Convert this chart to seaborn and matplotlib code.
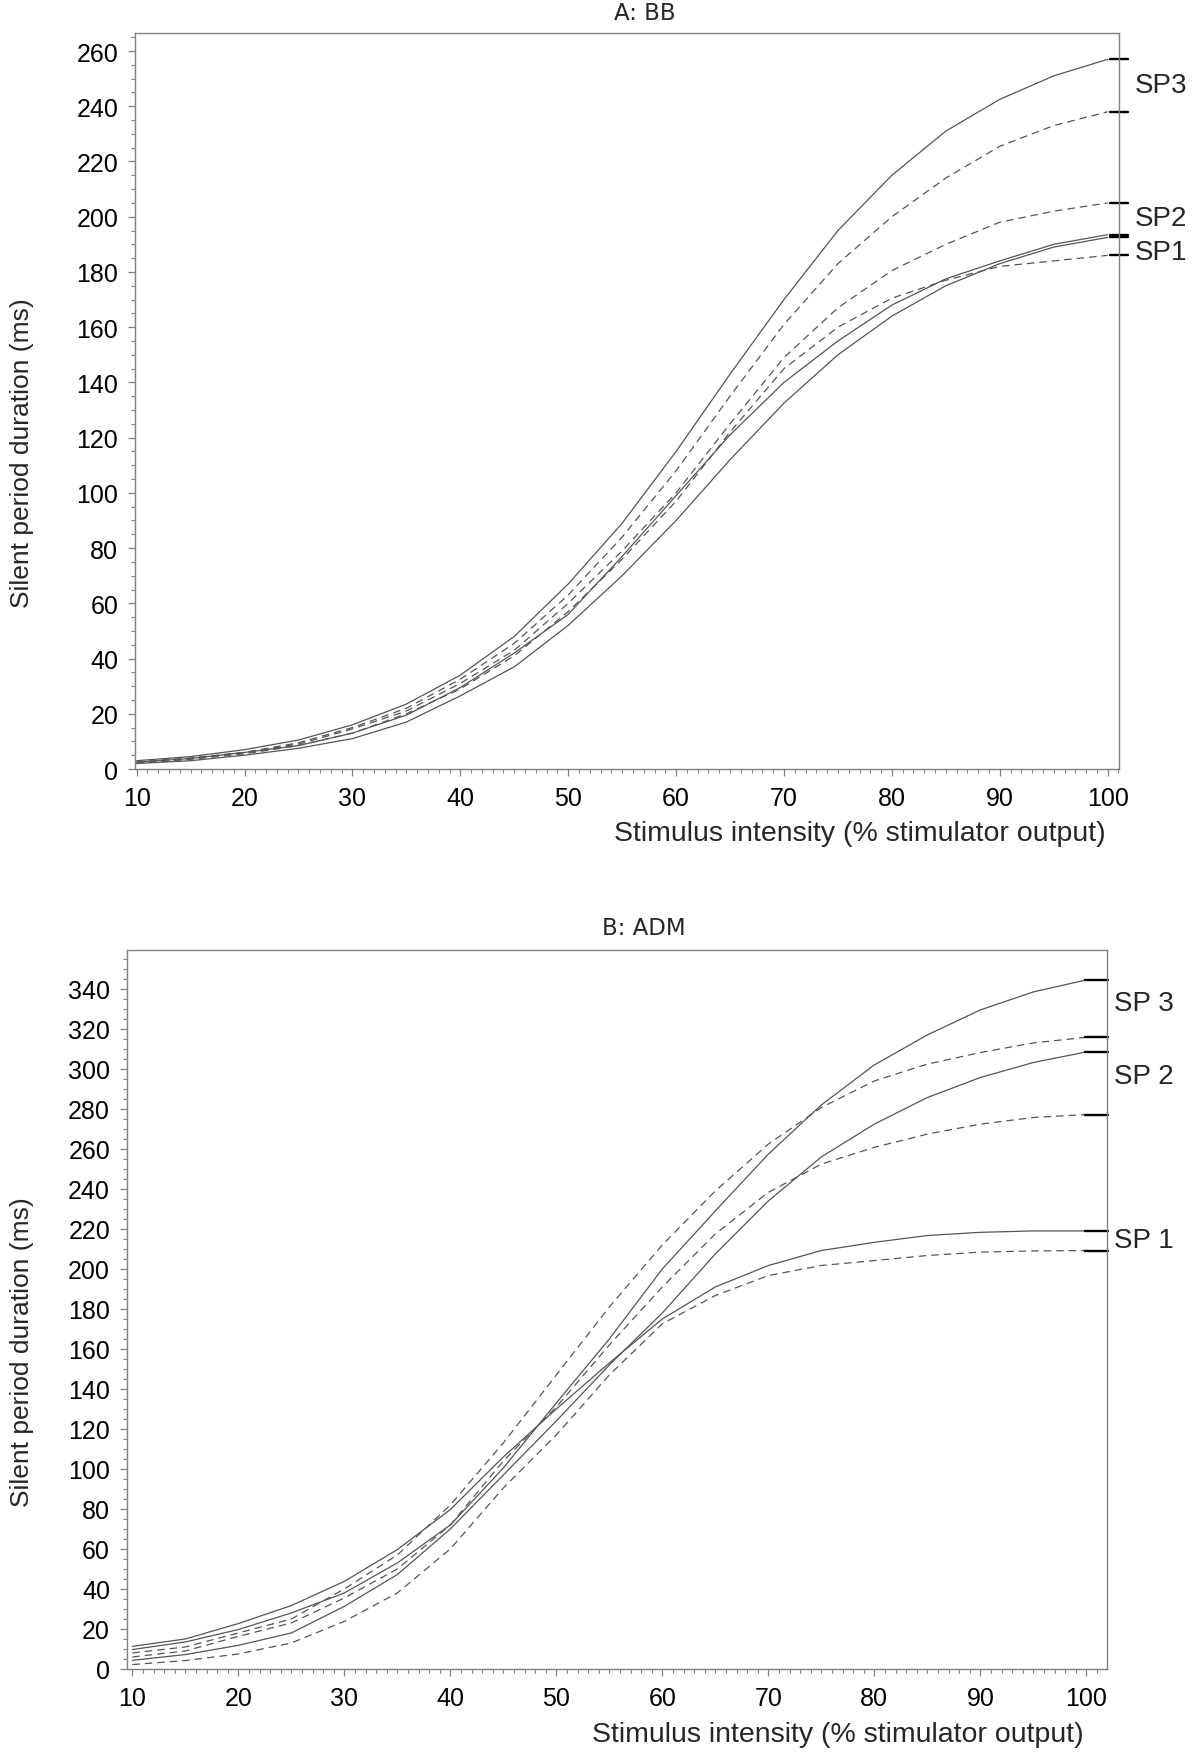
import pandas as pd
import matplotlib
matplotlib.use("Agg")
import matplotlib.pyplot as plt
import seaborn as sns
from matplotlib.ticker import MultipleLocator

# Stimulus intensity (% stimulator output)
intensity = [10, 15, 20, 25, 30, 35, 40, 45, 50, 55, 60, 65, 70, 75, 80, 85, 90, 95, 100]

# A: BB - silent period duration (ms)
bb_sp1 = [2.0, 3.0, 5.0, 7.5, 11.0, 17.0, 26.5, 37.0, 52.0, 70.0, 90.0, 112.0, 132.5, 150.0, 164.0, 175.0, 183.0, 189.0, 192.5]
bb_sp2 = [2.5, 3.8, 6.0, 8.5, 13.0, 19.5, 29.5, 42.0, 56.0, 77.0, 99.0, 121.0, 140.0, 155.0, 168.0, 177.5, 184.0, 190.0, 193.5]
bb_sp3 = [3.0, 4.5, 7.0, 10.5, 16.0, 23.5, 34.0, 48.0, 67.0, 89.0, 115.0, 143.0, 170.0, 195.0, 215.0, 231.0, 242.5, 251.0, 257.0]
bb_sp1_dash = [2.0, 3.5, 5.5, 8.5, 13.0, 20.0, 29.0, 41.0, 57.0, 76.0, 97.0, 122.0, 145.0, 160.0, 170.5, 177.0, 182.0, 184.0, 186.0]
bb_sp2_dash = [2.5, 3.8, 6.0, 9.0, 14.5, 21.0, 31.0, 43.0, 60.0, 79.0, 100.0, 125.0, 149.0, 167.0, 180.5, 190.0, 198.0, 202.0, 205.0]
bb_sp3_dash = [2.5, 4.0, 6.0, 9.5, 15.0, 22.0, 32.5, 45.5, 63.0, 84.0, 108.0, 135.0, 161.0, 183.0, 200.0, 214.0, 225.5, 233.0, 238.0]

# B: ADM - silent period duration (ms)
adm_sp1 = [11.3, 15.0, 22.7, 31.7, 43.8, 59.7, 79.7, 106.0, 130.0, 153.0, 175.0, 191.0, 201.7, 209.2, 213.3, 216.7, 218.3, 219.0, 219.0]
adm_sp2 = [4.3, 7.2, 11.8, 18.0, 31.3, 47.2, 70.0, 97.0, 124.0, 152.0, 178.0, 207.5, 234.0, 256.0, 272.4, 285.7, 295.7, 303.2, 308.5]
adm_sp3 = [9.7, 13.5, 19.7, 28.0, 38.0, 53.0, 72.0, 100.5, 133.0, 165.0, 200.0, 229.0, 257.4, 282.0, 302.0, 317.0, 329.5, 338.5, 344.5]
adm_sp1_dash = [2.2, 4.2, 7.5, 13.0, 23.8, 38.0, 60.0, 90.5, 117.0, 147.0, 172.6, 186.7, 196.7, 201.7, 204.2, 206.7, 208.4, 209.0, 209.2]
adm_sp2_dash = [6.0, 9.0, 16.3, 23.0, 35.5, 50.0, 72.0, 104.0, 131.0, 162.0, 191.0, 217.5, 238.3, 252.4, 260.8, 267.4, 272.4, 275.7, 277.2]
adm_sp3_dash = [8.0, 11.0, 18.0, 25.0, 40.0, 57.0, 82.0, 113.0, 147.0, 181.0, 212.0, 239.0, 262.4, 280.7, 294.0, 302.4, 308.2, 313.0, 315.8]

bb_labels = ["SP3", "SP2", "SP1"]
bb_label_y = [247.7, 199.4, 187.3]
adm_labels = ["SP 3", "SP 2", "SP 1"]
adm_label_y = [333.0, 296.3, 214.7]


def long_form(curves):
    frames = []
    for name, kind, vals in curves:
        frames.append(pd.DataFrame({"intensity": intensity, "duration": vals,
                                    "curve": name + "_" + kind, "kind": kind}))
    return pd.concat(frames, ignore_index=True)


bb_df = long_form([("SP1", "solid", bb_sp1), ("SP2", "solid", bb_sp2), ("SP3", "solid", bb_sp3),
                   ("SP1", "dashed", bb_sp1_dash), ("SP2", "dashed", bb_sp2_dash), ("SP3", "dashed", bb_sp3_dash)])
adm_df = long_form([("SP1", "solid", adm_sp1), ("SP2", "solid", adm_sp2), ("SP3", "solid", adm_sp3),
                    ("SP1", "dashed", adm_sp1_dash), ("SP2", "dashed", adm_sp2_dash), ("SP3", "dashed", adm_sp3_dash)])

sns.set_theme(style="white")
plt.rcParams["font.family"] = ["Liberation Sans", "DejaVu Sans"]

fig = plt.figure(figsize=(12, 17.56), dpi=100)
ax_a = fig.add_axes([0.1125, 0.5615, 0.82, 0.4191])
ax_b = fig.add_axes([0.1056, 0.049, 0.8172, 0.4096])

line_col = "#555555"
frame_col = "#808080"


def style_panel(ax, df, xlim, ylim, ymajor):
    sns.lineplot(data=df, x="intensity", y="duration", units="curve", estimator=None,
                 style="kind", dashes={"solid": "", "dashed": (6, 4)},
                 color=line_col, lw=0.9, legend=False, sort=False, ax=ax)
    ax.set_xlim(*xlim)
    ax.set_ylim(*ylim)
    ax.xaxis.set_major_locator(MultipleLocator(10))
    ax.xaxis.set_minor_locator(MultipleLocator(1))
    ax.yaxis.set_major_locator(MultipleLocator(ymajor))
    ax.yaxis.set_minor_locator(MultipleLocator(5))
    ax.tick_params(which="major", direction="out", length=5, width=0.9, color=frame_col,
                   labelsize=18, labelcolor="black", pad=7)
    ax.tick_params(which="minor", direction="out", length=2.8, width=0.8, color=frame_col)
    ax.tick_params(axis="both", which="both", bottom=True, left=True, top=False, right=False)
    for sp in ax.spines.values():
        sp.set_color(frame_col)
        sp.set_linewidth(1.0)
    ax.set_ylabel("Silent period duration (ms)", fontsize=19)
    ax.set_xlabel("Stimulus intensity (% stimulator output)", fontsize=20.5, ha="right")
    ax.xaxis.label.set_va("center")
    ax.yaxis.label.set_va("center")


# Panel A: BB
style_panel(ax_a, bb_df, (9.85, 101.05), (0, 266.5), 20)
ax_a.xaxis.set_label_coords(0.9868, -0.087)
ax_a.yaxis.set_label_coords(-0.115, 0.431)
ax_a.text(0.518, 1.0276, "A: BB", transform=ax_a.transAxes, ha="center", va="center",
          fontsize=16.5, family="DejaVu Sans")
ends_a = [bb_sp1[-1], bb_sp2[-1], bb_sp3[-1], bb_sp1_dash[-1], bb_sp2_dash[-1], bb_sp3_dash[-1]]
for v in ends_a:
    ax_a.plot([100.2, 101.85], [v, v], color="black", lw=1.7, clip_on=False)
for lab, y in zip(bb_labels, bb_label_y):
    ax_a.text(102.5, y, lab, fontsize=20, ha="left", va="center", clip_on=False)

# Panel B: ADM
style_panel(ax_b, adm_df, (9.47, 101.98), (0, 359.6), 20)
ax_b.xaxis.set_label_coords(0.9758, -0.0904)
ax_b.yaxis.set_label_coords(-0.1068, 0.4425)
ax_b.text(0.5275, 1.0311, "B: ADM", transform=ax_b.transAxes, ha="center", va="center",
          fontsize=16.5, family="DejaVu Sans")
ends_b = [adm_sp1[-1], adm_sp2[-1], adm_sp3[-1], adm_sp1_dash[-1], adm_sp2_dash[-1], adm_sp3_dash[-1]]
for v in ends_b:
    ax_b.plot([99.9, 102.0], [v, v], color="black", lw=1.7, clip_on=False)
for lab, y in zip(adm_labels, adm_label_y):
    ax_b.text(102.6, y, lab, fontsize=20, ha="left", va="center", clip_on=False)

fig.savefig("out.png", dpi=100, facecolor="white")
